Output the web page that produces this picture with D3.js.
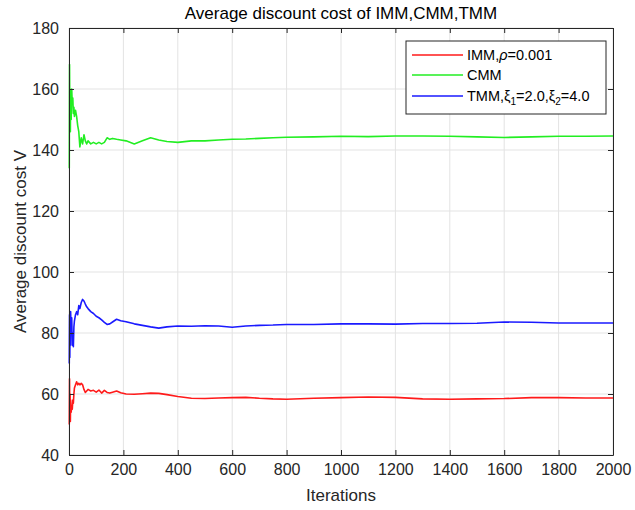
<!DOCTYPE html>
<html>
<head>
<meta charset="utf-8">
<script src="https://cdn.jsdelivr.net/npm/d3@7"></script>
<style>
  body { margin: 0; background: #fff; }
  svg { display: block; font-family: "Liberation Sans", Arial, sans-serif; }
  .grid line { stroke: #e3e3e3; stroke-width: 1; }
  .axis text { fill: #262626; font-size: 16px; }
  .axis path, .axis line { stroke: #262626; }
</style>
</head>
<body>
<svg id="chart" width="635" height="510"></svg>
<script>
// Values (dense early, sparse once the averages settle).
const iterations = [1, 2, 3, 4, 5, 6, 8, 10, 12, 14, 16, 18, 20, 24, 28, 32, 36, 40, 45, 50,
  55, 60, 65, 70, 80, 90, 100, 110, 120, 130, 140, 150, 160, 175, 190, 210, 240, 270, 300, 330,
  360, 400, 450, 500, 550, 600, 650, 700, 750, 800, 900, 1000, 1100, 1200, 1300, 1400, 1500,
  1600, 1700, 1800, 1900, 2000];
const immValues = [50, 65, 52, 60, 51, 58, 54, 56, 55, 58, 57, 60, 62, 63, 64, 63, 63.5, 63, 63.5, 63,
  61.5, 60.5, 61, 61.5, 61, 61.2, 60.6, 61.3, 60.3, 61.2, 60.5, 60.3, 60.6, 61, 60.4, 60, 59.9, 60.1, 60.3, 60.2,
  59.8, 59.2, 58.6, 58.5, 58.7, 58.8, 58.9, 58.6, 58.4, 58.3, 58.6, 58.8, 59, 58.9, 58.4, 58.3, 58.4,
  58.5, 58.8, 58.8, 58.7, 58.7];
const cmmValues = [134, 168, 152, 160, 146, 158, 150, 160, 155, 157, 152, 154, 151, 153, 151, 148, 146, 141, 144, 142,
  145, 143, 142, 143, 142, 142.5, 142, 142.5, 142, 142.5, 144, 143.5, 143.8, 143.5, 143.3, 143, 142, 143, 144, 143.3,
  142.8, 142.5, 143, 143, 143.3, 143.5, 143.6, 143.8, 144, 144.2, 144.3, 144.5, 144.4, 144.6, 144.6, 144.5, 144.3,
  144.1, 144.3, 144.5, 144.5, 144.6];
const tmmValues = [70, 86, 72, 84, 76, 87, 80, 85, 76, 80, 75.5, 82, 84, 86, 87, 86, 89, 88, 90, 91,
  90.5, 89.5, 88.6, 88, 87, 86.4, 85.5, 85, 84.3, 83.5, 82.8, 83, 83.6, 84.5, 84, 83.7, 83, 82.5, 82, 81.6,
  82, 82.3, 82.2, 82.4, 82.3, 81.9, 82.3, 82.5, 82.6, 82.8, 82.8, 83, 83, 82.9, 83.1, 83.1, 83.2,
  83.6, 83.5, 83.3, 83.3, 83.3];
const xTicks = [0, 200, 400, 600, 800, 1000, 1200, 1400, 1600, 1800, 2000];
const yTicks = [40, 60, 80, 100, 120, 140, 160, 180];

const series = [
  { name: "IMM", values: immValues, color: "#ff1a1a" },
  { name: "CMM", values: cmmValues, color: "#22ee22" },
  { name: "TMM", values: tmmValues, color: "#1a1aff" },
];

const svg = d3.select("#chart");
const m = { left: 69, right: 613, top: 28, bottom: 455 };

const x = d3.scaleLinear().domain([0, 2000]).range([m.left, m.right]);
const y = d3.scaleLinear().domain([40, 180]).range([m.bottom, m.top]);

// grid
const grid = svg.append("g").attr("class", "grid");
grid.selectAll("line.v").data(xTicks).join("line")
  .attr("x1", d => x(d)).attr("x2", d => x(d)).attr("y1", m.top).attr("y2", m.bottom);
grid.selectAll("line.h").data(yTicks).join("line")
  .attr("y1", d => y(d)).attr("y2", d => y(d)).attr("x1", m.left).attr("x2", m.right);

// lines
const line = d3.line().x((d, i) => x(iterations[i])).y(d => y(d));
svg.append("g").selectAll("path").data(series).join("path")
  .attr("fill", "none")
  .attr("stroke", d => d.color)
  .attr("stroke-width", 1.6)
  .attr("stroke-linejoin", "round")
  .attr("d", d => line(d.values));

// axes, MATLAB-like box with inward ticks on all sides
const tk = -5;
const fmt = d3.format("d");
svg.append("g").attr("class", "axis").attr("transform", `translate(0,${m.bottom})`)
  .call(d3.axisBottom(x).tickValues(xTicks).tickFormat(fmt).tickSize(tk).tickPadding(9).tickSizeOuter(0));
svg.append("g").attr("class", "axis").attr("transform", `translate(0,${m.top})`)
  .call(d3.axisTop(x).tickValues(xTicks).tickSize(tk).tickFormat("").tickSizeOuter(0));
svg.append("g").attr("class", "axis").attr("transform", `translate(${m.left},0)`)
  .call(d3.axisLeft(y).tickValues(yTicks).tickFormat(fmt).tickSize(tk).tickPadding(10).tickSizeOuter(0));
svg.append("g").attr("class", "axis").attr("transform", `translate(${m.right},0)`)
  .call(d3.axisRight(y).tickValues(yTicks).tickSize(tk).tickFormat("").tickSizeOuter(0));

// labels
svg.append("text").attr("x", (m.left + m.right) / 2).attr("y", 19)
  .attr("text-anchor", "middle").attr("font-size", 17).attr("fill", "#000")
  .text("Average discount cost of IMM,CMM,TMM");
svg.append("text").attr("x", (m.left + m.right) / 2).attr("y", 501)
  .attr("text-anchor", "middle").attr("font-size", 17).attr("fill", "#262626")
  .text("Iterations");
svg.append("text").attr("transform", `translate(26,${(m.top + m.bottom) / 2}) rotate(-90)`)
  .attr("text-anchor", "middle").attr("font-size", 17).attr("fill", "#262626")
  .text("Average discount cost V");

// legend
const lg = svg.append("g").attr("transform", "translate(406,41)");
lg.append("rect").attr("width", 200).attr("height", 73)
  .attr("fill", "#fff").attr("stroke", "#262626").attr("stroke-width", 1);
const rowY = [14, 34, 55];
lg.selectAll("line").data(series).join("line")
  .attr("x1", 6).attr("x2", 57)
  .attr("y1", (d, i) => rowY[i]).attr("y2", (d, i) => rowY[i])
  .attr("stroke", d => d.color).attr("stroke-width", 1.6);

const fs = 14.5;
const t0 = lg.append("text").attr("x", 61).attr("y", rowY[0] + 5).attr("font-size", fs).attr("fill", "#000");
t0.append("tspan").text("IMM,");
t0.append("tspan").attr("font-style", "italic").text("ρ");
t0.append("tspan").text("=0.001");

lg.append("text").attr("x", 61).attr("y", rowY[1] + 5).attr("font-size", fs).attr("fill", "#000").text("CMM");

const t2 = lg.append("text").attr("x", 61).attr("y", rowY[2] + 5).attr("font-size", fs).attr("fill", "#000");
t2.append("tspan").text("TMM,ξ");
t2.append("tspan").attr("font-size", 10).attr("dy", 4).text("1");
t2.append("tspan").attr("dy", -4).text("=2.0,ξ");
t2.append("tspan").attr("font-size", 10).attr("dy", 4).text("2");
t2.append("tspan").attr("dy", -4).text("=4.0");
</script>
</body>
</html>
